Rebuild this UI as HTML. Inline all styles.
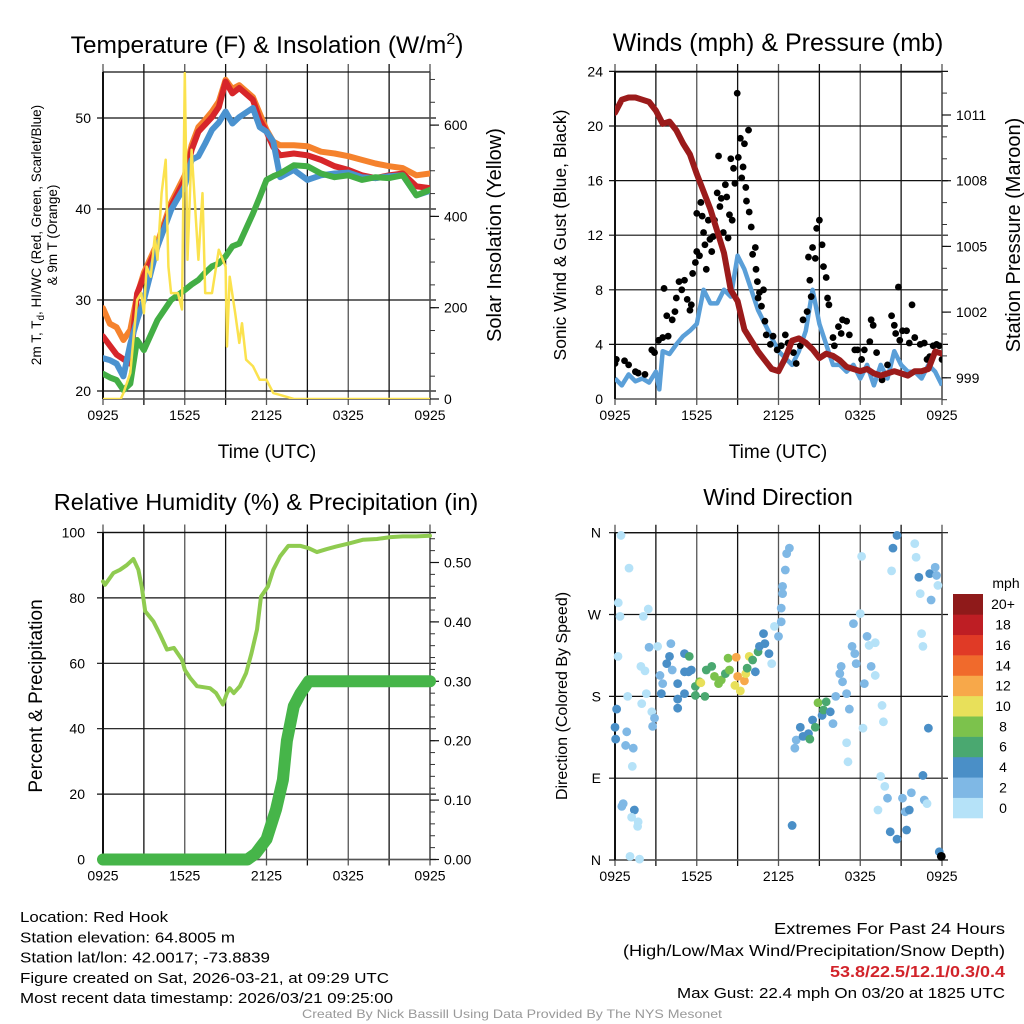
<!DOCTYPE html>
<html><head><meta charset="utf-8"><style>
html,body{margin:0;padding:0;background:#fff}
svg{display:block}
text{font-family:"Liberation Sans",sans-serif;fill:#000}
</style></head><body>
<svg id="svg" width="1024" height="1024" viewBox="0 0 1024 1024" xmlns="http://www.w3.org/2000/svg">
<g id="g"></g>
</svg>
<script>
// ---------- DATA ----------
const tickLabels = ["0925","1525","2125","0325","0925"];
const tempHours = [0,0.5,1,1.5,2,2.5,3,4,5,6,6.5,7,7.5,8,8.5,9,9.5,10,11,11.5,12,12.5,13,14,15,16,17,18,19,20,21,22,23,24];
const temp2m = [26,25,24,23.5,23,30.7,32.6,35.9,40.3,43.2,46.5,48.5,49.3,50.1,51.2,54,52.7,53.3,52,49.8,48.5,46.8,45.9,46.1,45.9,45.4,44.7,44.3,43.7,43.4,43.7,43.9,42.5,42.3];
const temp9m = [29.1,27.4,27,25.6,26.7,30.5,33,36.3,40.7,43.7,47,49,49.8,50.7,51.8,54.2,53.2,53.6,52.3,50.5,48.7,47.4,47,47,46.9,46.3,46.1,45.8,45.4,45,44.7,44.5,43.7,43.9];
const heatIndex = [23.6,23.4,23,21.6,25.2,27.8,30,35.9,39.9,42.5,45.4,45.8,47.2,48.7,49.5,50.7,49.4,50.1,51.1,49,48.5,47.4,43.5,44.3,43.2,43.7,43.9,44,43.5,43.4,43.6,43.7,41.5,42];
const dewpoint = [21.9,21.5,21.2,20.1,20.8,25.6,24.5,27.8,30,31.1,31.7,32.2,33,33.7,34,34.8,35.9,36.2,39.5,41.3,43.2,43.6,43.9,44.8,44.7,43.9,43.5,43.7,43.2,43.5,43.4,43.7,41.5,42.1];
const solarHours = [0,1.3,1.5,2,2.5,2.8,3,3.2,3.5,3.8,4,4.3,4.6,4.8,5,5.5,5.8,6,6.2,6.5,7,7.3,7.5,8,8.5,9,9.1,9.3,9.7,10,10.2,10.5,11,11.5,12,12.5,13,14,24];
const solarVals = [0,0,13,57,217,232,188,290,268,356,305,451,524,290,232,232,196,714,305,546,305,451,232,232,327,290,115,268,188,123,166,86,72,42,42,13,9,0,0];
const windHours = [0,0.5,1,1.5,2,2.5,3,3.25,3.5,4,4.5,5,5.5,6,6.5,7,7.5,8,8.5,9,9.5,10,10.5,11,11.5,12,12.5,13,13.5,14,14.5,15,15.5,16,16.5,17,17.5,18,18.5,19,19.5,20,20.5,21,21.5,22,22.5,23,23.5,24];
const windSpeed = [1.5,1.0,1.8,1.3,1.5,1.2,2.0,0.7,3.5,3.3,4.0,4.6,5.0,5.5,8.0,7.0,7.0,8.0,7.5,10.5,9.5,8.0,6.5,5.5,4.5,3.5,3.0,2.5,3.5,5.0,8.0,5.5,4.0,2.5,2.5,2.0,2.5,1.5,2.5,1.0,2.5,1.5,3.5,2.5,2.0,2.0,1.5,2.5,2.0,1.0];
const gustHours = [0,0.1,0.7,1.0,1.5,1.7,2.2,2.7,2.9,3.2,3.5,3.6,3.9,3.8,4.2,4.4,4.5,4.7,4.9,5.1,5.3,5.5,5.6,5.7,5.9,6.0,6.0,6.2,6.3,6.4,6.5,6.6,6.7,6.85,6.97,7.1,7.2,7.3,7.5,7.6,7.7,7.8,7.95,8.1,8.2,8.3,8.4,8.6,8.5,8.7,8.8,8.97,9.05,9.2,9.3,9.4,9.5,9.6,9.65,9.8,9.85,10.0,10.1,10.3,10.35,10.45,10.5,10.6,10.75,10.9,11.0,11.1,11.4,11.6,11.9,12.2,12.5,12.7,13.1,13.3,13.6,13.8,14.1,14.2,14.3,14.4,14.5,14.7,14.8,15.0,15.2,15.3,15.5,15.6,15.7,16.0,16.1,16.4,16.6,16.7,17.0,17.2,17.6,17.8,18.1,18.3,18.7,18.8,18.95,19.2,19.6,20.0,20.3,20.5,20.6,20.8,20.9,21.1,21.4,21.6,21.8,22.0,22.4,22.7,22.9,23.1,23.35,23.6,23.8,24.0];
const gustVals = [2.6,2.9,2.8,2.5,2.0,1.9,1.8,3.6,3.4,4.3,4.5,8.1,4.6,6.1,5.8,6.4,7.4,8.6,8.0,8.7,7.3,6.5,6.9,9.2,10.0,10.8,13.6,10.5,14.4,13.4,12.2,11.3,9.5,13.1,11.7,10.8,11.9,13.1,15.1,17.8,14.1,14.7,12.2,15.7,14.8,11.8,13.5,13.1,17.6,16.9,15.8,22.4,17.7,19.1,16.2,17.0,18.7,15.5,14.5,19.7,13.7,12.6,10.6,11.1,9.5,8.6,7.4,7.8,6.8,8.0,5.7,4.7,4.0,4.6,3.6,3.9,4.7,4.1,3.4,2.6,3.9,5.8,6.4,10.4,8.7,7.5,11.1,10.3,12.5,13.1,11.3,9.7,8.9,7.4,6.9,4.5,3.9,5.3,4.8,5.8,5.7,4.7,3.6,3.6,2.9,3.6,4.2,5.8,5.4,3.4,1.4,2.5,6.1,5.4,4.8,8.2,4.3,5.0,5.0,4.1,6.9,4.5,4.0,4.1,2.9,3.1,3.9,4.0,3.9,2.9];
const presHours = [0,0.5,1,1.5,2,2.5,3,3.5,4,4.5,5,5.5,6,6.5,7,7.5,8,8.5,9,9.5,10,10.5,11,11.5,12,12.5,13,13.5,14,14.5,15,15.5,16,16.5,17,17.5,18,18.5,19,19.5,20,20.5,21,21.5,22,22.5,23,23.5,24];
const presVals = [1011.1,1011.7,1011.8,1011.8,1011.7,1011.6,1011.2,1010.6,1010.7,1010.3,1009.7,1009.2,1008.3,1007.5,1006.7,1005.7,1004.7,1003,1002.5,1001.2,1000.7,1000.2,999.8,999.4,999.3,999.9,1000.7,1000.8,1000.6,1000.3,999.9,1000.1,1000,999.8,999.5,999.4,999.3,999.4,999.2,999.1,999.2,999.3,999.2,999.1,999.3,999.3,999.4,1000.2,1000.1];
const rhHours = [0,0.15,0.76,1.25,1.74,2.23,2.6,2.84,3.1,3.7,4.2,4.7,5.2,5.8,6.0,6.4,6.9,7.85,8.3,8.8,9.1,9.3,9.6,10.05,10.5,10.9,11.3,11.6,12.1,12.5,13,13.6,14.5,15.1,15.7,16.4,17.1,18.1,19.1,20.1,21.1,22,23,24];
const rhVals = [85,84,87.6,88.6,90,91.9,88.6,83.5,75.9,72.8,68.7,64.2,64.7,61.1,58,55.5,53,52.4,50.9,47.4,50.9,52.4,50.9,53,57,63.1,70.3,80.4,83.5,88.6,92.7,95.9,95.9,95.2,94,94.9,95.7,96.7,97.8,98,98.6,98.8,98.8,99];
const precipHours = [0,10.6,11.2,12,12.7,13.2,13.5,14,14.5,15.1,24];
const precipVals = [0,0,0.01,0.034,0.084,0.134,0.2,0.258,0.28,0.30,0.30];
const dirHours = [0.44,1.03,0.24,0.37,2.44,2.08,0.22,2.5,3.13,1.9,2.2,0.93,2.3,1.96,0.12,2.7,2.9,2.76,0,0.86,0.05,0.78,1.34,1.27,0.6,0.5,1.42,1.22,1.7,1.66,1.1,1.8,
3.3,3.5,3.4,3.8,4.0,4.1,4.2,4.6,4.6,4.6,5.1,5.1,5.1,5.45,5.4,5.6,5.9,5.9,6.2,6.3,6.6,6.7,7.1,7.3,7.6,7.8,8.1,8.3,8.4,8.8,8.9,9.0,9.2,9.5,9.6,9.85,9.7,10.1,10.3,10.5,10.6,10.9,11.0,11.3,11.5,11.7,12.0,12.2,12.2,12.3,12.3,12.5,12.6,12.8,
13.0,13.2,13.3,13.6,13.8,14.2,14.3,14.5,14.7,14.9,15.2,15.3,15.5,15.8,16.0,16.2,16.5,16.6,16.7,17.0,17.0,17.1,17.2,17.4,17.5,17.6,17.7,18.1,18.0,18.2,18.3,18.5,18.65,18.8,19.1,19.1,19.5,19.7,19.6,19.8,19.3,20.0,20.3,20.4,20.7,20.2,20.7,21.1,21.3,21.4,21.6,21.75,22.0,22.1,22.3,22.4,22.5,22.6,22.6,22.7,22.9,23.0,23.1,23.2,23.5,23.6,23.7,23.8,23.95];
const dirDeg = [357,321,283,268,276,268,224,234,235,213,208,180,183,172,166,163,156,147,146,141,133,126,123,103,62,59,55,47,42,37,4,1,
203,194,183,216,224,238,209,194,177,167,227,207,183,224,207,209,181,191,196,195,180,209,213,202,194,198,205,222,209,192,223,202,186,197,205,224,211,220,207,229,235,249,238,227,216,257,246,262,277,293,301,319,337,343,
38,123,132,146,136,139,133,154,146,173,159,165,174,163,150,180,205,213,196,183,129,108,166,235,260,227,216,334,271,145,194,246,236,213,203,239,92,152,170,81,55,68,318,343,357,31,23,68,53,33,55,74,348,333,311,293,249,235,93,66,62,145,315,286,322,313,302,9,4];
const dirSpeed = [1,1,1,1,1,1,1,3,1,1,1,1,1,1,5,1,3,3,5,3,5,3,3,1,3,3,5,1,1,1,1,1,
3,3,5,5,5,3,3,5,5,5,5,5,5,7,5,5,7,7,9,11,7,7,7,9,9,9,7,9,9,11,13,13,11,13,11,11,7,7,5,7,5,5,5,5,1,1,3,3,3,3,3,3,3,3,
5,3,3,5,5,5,7,5,7,9,5,7,7,5,3,3,3,3,3,3,1,1,3,3,3,3,3,1,1,1,3,3,1,3,1,1,1,1,1,1,1,3,1,5,5,5,5,3,3,5,5,3,1,1,5,1,1,1,5,3,1,5,5,3,3,3,1,5];
const speedBins = ["0","2","4","6","8","10","12","14","16","18","20+"];
const binColors = ["#b5e2f8","#7fb8e5","#4a8fc7","#4aa870","#7cc24c","#e8e05a","#f7a84a","#f06a2c","#e03a26","#be1e24","#8f1a1a"];

// ---------- HELPERS ----------
const NS="http://www.w3.org/2000/svg";
const G=document.getElementById('g');
function mk(tag,attrs,parent){const e=document.createElementNS(NS,tag);for(const k in attrs)e.setAttribute(k,attrs[k]);(parent||G).appendChild(e);return e;}
function txt(x,y,s,size,anchor,extra){const e=mk('text',Object.assign({x:x,y:y,'font-size':size,'text-anchor':anchor||'middle'},extra||{}));e.textContent=s;return e;}
const X0=103,X1=430,XR0=615,XR1=942;
const xL=h=>X0+h*(X1-X0)/24;
const xR=h=>XR0+h*(XR1-XR0)/24;
function pathD(hs,vs,fx,fy){return hs.map((h,i)=>(i?'L':'M')+fx(h).toFixed(1)+','+fy(vs[i]).toFixed(1)).join('');}
function clip(id,x,y,w,h){const c=mk('clipPath',{id:id});mk('rect',{x:x,y:y,width:w,height:h},c);}

function frame(x0,x1,y0,y1,hLines,name){
  const fg=mk('g',{});
  
  
  for(let k=0;k<=8;k++){const x=x0+k*(x1-x0)/8;mk('line',{x1:x,y1:y0-8,x2:x,y2:y1+6,stroke:k%2?'#111':'#555','stroke-width':1.3},fg);}
  hLines.forEach(y=>mk('line',{x1:x0-6,y1:y,x2:x1+6,y2:y,stroke:'#111','stroke-width':1.2},fg));
  mk('line',{x1:x0,y1:y0,x2:x1,y2:y0,stroke:'#111','stroke-width':1.3},fg);
  mk('line',{x1:x0,y1:y1,x2:x1,y2:y1,stroke:'#555','stroke-width':1.5},fg);
  mk('line',{x1:x0,y1:y0,x2:x0,y2:y1,stroke:'#111','stroke-width':2},fg);
  mk('line',{x1:x1,y1:y0,x2:x1,y2:y1,stroke:'#555','stroke-width':1.5},fg);
  const tl=mk('g',{});
  
  
  tickLabels.forEach((s,i)=>{const t=txt(x0+i*(x1-x0)/4,y1+21,s,14,'middle');tl.appendChild(t);});
}
function rightTicks(x,y0,y1,major,minorStep,fy,vmin,vmax){
  for(let v=vmin;v<=vmax+1e-9;v+=minorStep){const y=fy(v);if(y<y0-1||y>y1+1)continue;mk('line',{x1:x,y1:y,x2:x+5,y2:y,stroke:'#333','stroke-width':1});}
  major.forEach(v=>{const y=fy(v);mk('line',{x1:x,y1:y,x2:x+9,y2:y,stroke:'#111','stroke-width':1.2});});
}

// ===== PANEL 1: Temperature =====
const yT=t=>391-(t-20)*9.1;
const yS=w=>399-w*0.4565;
clip('c1',X0,72,X1-X0,327);
frame(X0,X1,72,399,[yT(20),yT(30),yT(40),yT(50)],'temperature');
rightTicks(X1,72,399,[0,200,400,600],50,yS,0,700);
[20,30,40,50].forEach(v=>{const t=txt(X0-12,yT(v)+5,String(v),14,'end');});
[0,200,400,600].forEach(v=>{const t=txt(X1+14,yS(v)+5,String(v),14,'start');});
const p1=mk('g',{'clip-path':'url(#c1)'});
[[temp9m,'#f5822d','temp-9m-line'],[temp2m,'#d7262a','temp-2m-line'],[heatIndex,'#4a92cf','heat-index-line'],[dewpoint,'#43ae45','dewpoint-line']].forEach(s=>{
  const e=mk('path',{d:pathD(tempHours,s[0],xL,yT),fill:'none',stroke:s[1],'stroke-width':6,'stroke-linejoin':'round','stroke-linecap':'round'},p1);
  
  
});
const sol=mk('path',{d:pathD(solarHours,solarVals,xL,yS),fill:'none',stroke:'#fbe24e','stroke-width':2.5,'stroke-linejoin':'round'},p1);



// ===== PANEL 2: Winds =====
const yW=m=>399-m*13.65;
const yP=p=>115-(p-1011)*21.9;
clip('c2',XR0,72,XR1-XR0,330);
frame(XR0,XR1,72,399,[4,8,12,16,20,24].map(yW),'winds');
rightTicks(XR1,72,399,[999,1002,1005,1008,1011],1,yP,998,1012);
[0,4,8,12,16,20,24].forEach(v=>{const t=txt(XR0-12,yW(v)+5,String(v),14,'end');});
[999,1002,1005,1008,1011].forEach(v=>{const t=txt(XR1+14,yP(v)+5,String(v),14,'start');});
const p2=mk('g',{'clip-path':'url(#c2)'});
const ws=mk('path',{d:pathD(windHours,windSpeed,xR,yW),fill:'none',stroke:'#5a9fd8','stroke-width':4.5,'stroke-linejoin':'round'},p2);


gustHours.forEach((h,i)=>{
  const c=mk('circle',{cx:xR(h),cy:yW(gustVals[i]),r:3.4,fill:'#000'},p2);
  
  
});
const pr=mk('path',{d:pathD(presHours,presVals,xR,yP),fill:'none',stroke:'#9b1b1b','stroke-width':6,'stroke-linejoin':'round','stroke-linecap':'round'},p2);



// ===== PANEL 3: RH & Precip =====
const yRH=v=>859.5-v*3.27;
const yPr=v=>859.5-v*594;
clip('c3',X0-8,525,X1-X0+16,345);
frame(X0,X1,532.5,859.5,[0,20,40,60,80,100].map(yRH),'humidity');
rightTicks(X1,532,860,[0,0.1,0.2,0.3,0.4,0.5],0.02,yPr,0,0.54);
[0,20,40,60,80,100].forEach(v=>{const t=txt(X0-18,yRH(v)+5,String(v),14,'end');});
[0,0.1,0.2,0.3,0.4,0.5].forEach(v=>{const t=txt(X1+14,yPr(v)+5,v.toFixed(2),14,'start');});
const p3=mk('g',{'clip-path':'url(#c3)'});
const rh=mk('path',{d:pathD(rhHours,rhVals,xL,yRH),fill:'none',stroke:'#8fcb50','stroke-width':4,'stroke-linejoin':'round','stroke-linecap':'round'},p3);


const pc=mk('path',{d:pathD(precipHours,precipVals,xL,yPr),fill:'none',stroke:'#46b549','stroke-width':12,'stroke-linejoin':'round','stroke-linecap':'round'},p3);



// ===== PANEL 4: Wind direction =====
const yD=d=>860-d*(860-532.7)/360;
clip('c4',XR0-8,525,XR1-XR0+16,345);
frame(XR0,XR1,532.7,860,[0,90,180,270,360].map(yD),'wind-direction');
[['N',0],['E',90],['S',180],['W',270],['N',360]].forEach(a=>{const t=txt(XR0-14,yD(a[1])+5,a[0],14,'end');});
const p4=mk('g',{'clip-path':'url(#c4)'});
dirHours.forEach((h,i)=>{
  const b=Math.min(10,Math.floor(dirSpeed[i]/2));
  const c=mk('circle',{cx:xR(h),cy:yD(dirDeg[i]),r:4.4,fill:binColors[b]},p4);
  
  
});
// legend
const lg=mk('g',{});


const cellH=(818-594)/11;
speedBins.forEach((s,i)=>{
  const k=10-i;
  const r=mk('rect',{x:953,y:594+k*cellH,width:30,height:cellH+0.3,fill:binColors[i]},lg);
  
  
  const t=txt(1003,594+k*cellH+cellH/2+5,s,14,'middle');lg.appendChild(t);
});
const mph=txt(1006,588,'mph',14,'middle');lg.appendChild(mph);

// ---------- titles & axis labels ----------
function label(x,y,s,size,name,rot,anchor,extra){const t=txt(x,y,s,size,anchor||'middle',extra);if(rot)t.setAttribute('transform','rotate(-90 '+x+' '+y+')');return t;}
const t1=label(267,53,'',24.5,'temperature-title');
t1.innerHTML='Temperature (F) &amp; Insolation (W/m<tspan dy="-9" font-size="16">2</tspan><tspan dy="9">)</tspan>';
label(778,51,'Winds (mph) & Pressure (mb)',25,'winds-title');
label(266,510,'Relative Humidity (%) & Precipitation (in)',23.5,'humidity-title');
label(778,505,'Wind Direction',23,'wind-direction-title');
label(267,458,'Time (UTC)',19,'temperature-x-title');
label(778,458,'Time (UTC)',19,'winds-x-title');
const yl=label(41,235,'',13.5,'temperature-y-title',true);
yl.innerHTML='2m T, T<tspan dy="3" font-size="10">d</tspan><tspan dy="-3">, HI/WC (Red, Green, Scarlet/Blue)</tspan>';
label(57,235,'& 9m T (Orange)',13.5,'temperature-y-title-2',true);
label(501,235,'Solar Insolation (Yellow)',20,'solar-y-title',true);
label(566,235,'Sonic Wind & Gust (Blue, Black)',17.5,'wind-y-title',true);
label(1020,235,'Station Pressure (Maroon)',20,'pressure-y-title',true);
label(42,696,'Percent & Precipitation',19,'humidity-y-title',true);
label(567,696,'Direction (Colored By Speed)',16,'direction-y-title',true);

// ---------- footer ----------
const info=["Location: Red Hook","Station elevation: 64.8005 m","Station lat/lon: 42.0017; -73.8839","Figure created on Sat, 2026-03-21, at 09:29 UTC","Most recent data timestamp: 2026/03/21 09:25:00"];
const infoW=[148,215,250,369,373];
info.forEach((s,i)=>{label(20,922+i*20.3,s,15,'station-info-line-'+(i+1),false,'start',{textLength:infoW[i],lengthAdjust:'spacingAndGlyphs'});});
label(1005,934,'Extremes For Past 24 Hours',16,'extremes-title',false,'end',{textLength:231,lengthAdjust:'spacingAndGlyphs'});
label(1005,956,'(High/Low/Max Wind/Precipitation/Snow Depth)',16,'extremes-subtitle',false,'end',{textLength:382,lengthAdjust:'spacingAndGlyphs'});
const ex=label(1005,977,'53.8/22.5/12.1/0.3/0.4',16,'extremes-values',false,'end',{textLength:175,lengthAdjust:'spacingAndGlyphs','font-weight':'bold'});
ex.style.fill='#d2232a';
label(1005,998,'Max Gust: 22.4 mph On 03/20 at 1825 UTC',15,'max-gust-text',false,'end',{textLength:328,lengthAdjust:'spacingAndGlyphs'});
const cr=label(512,1018,'Created By Nick Bassill Using Data Provided By The NYS Mesonet',12,'credit-text',false,'middle',{textLength:420,lengthAdjust:'spacingAndGlyphs'});
cr.style.fill='#999';
</script>
</body></html>
